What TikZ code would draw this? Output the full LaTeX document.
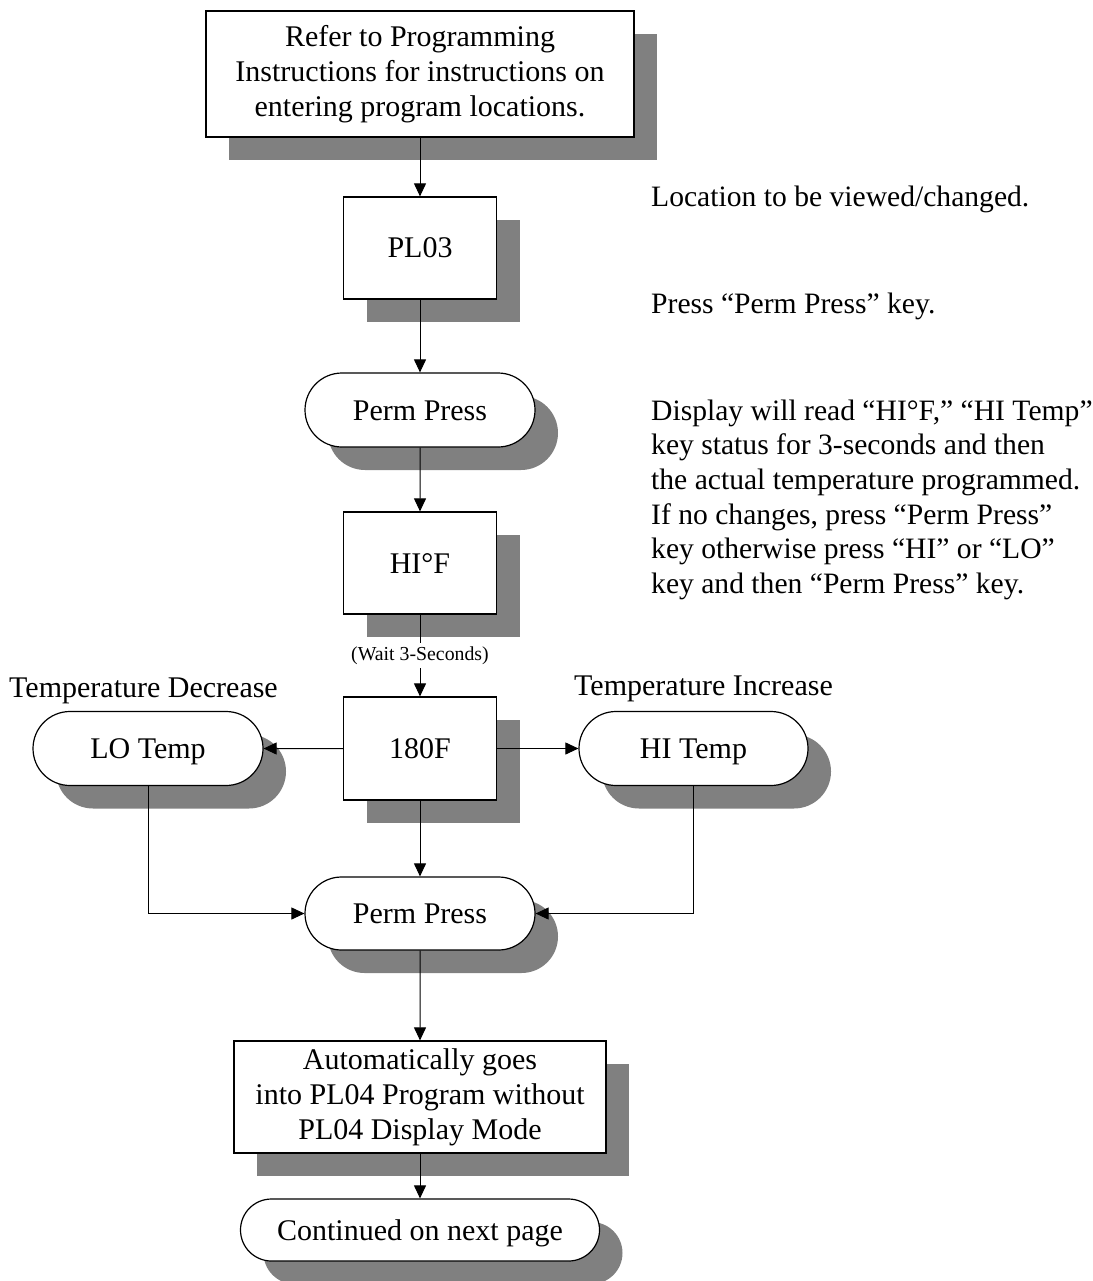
\documentclass[tikz,border=0pt]{standalone}
\usepackage{fontspec}
\setmainfont{Liberation Serif}
\usetikzlibrary{arrows.meta,shadows,shapes.misc}
\begin{document}
\begin{tikzpicture}[x=1pt,y=-1pt,
  every node/.style={font=\fontsize{30}{35}\selectfont},
  shad/.style={drop shadow={shadow xshift=23pt,shadow yshift=-23pt,fill=black!50,opacity=1}},
  boxnode/.style={draw=black,line width=1.2pt,fill=white,shad,align=center,inner sep=0pt},
  oneline/.style={text height=20pt,text depth=0pt},
  termnode/.style={boxnode,rounded rectangle,oneline},
  conn/.style={line width=1pt,-{Triangle[length=13pt,width=12pt]}},
  waitlbl/.style={fill=white,inner sep=4pt,font=\fontsize{19.8}{22}\selectfont},
  sidetext/.style={anchor=base west,align=left,inner sep=0pt,font=\fontsize{29.6}{34.7}\selectfont}
]
\useasboundingbox (0,0) rectangle (1092,1281);
\fill[white] (0,0) rectangle (1092,1281);

\node[boxnode,minimum width=428pt,minimum height=126pt] (b1) at (420,74) {Refer to Programming\\Instructions for instructions on\\entering program locations.};
\node[boxnode,oneline,minimum width=153pt,minimum height=102pt] (pl) at (420,248) {PL03};
\node[termnode,minimum width=230pt,minimum height=74pt] (pp1) at (420,410) {Perm Press};
\node[boxnode,oneline,minimum width=153pt,minimum height=102pt] (hf) at (420,563) {HI°F};
\node[boxnode,oneline,minimum width=153pt,minimum height=103pt] (t) at (420,748.5) {180F};
\node[termnode,minimum width=230pt,minimum height=74pt] (lo) at (148,748.5) {LO Temp};
\node[termnode,minimum width=229pt,minimum height=74pt] (hi) at (693.5,748.5) {HI Temp};
\node[termnode,minimum width=230pt,minimum height=73pt] (pp2) at (420,913.5) {Perm Press};
\node[boxnode,minimum width=372pt,minimum height=112pt] (au) at (420,1097) {Automatically goes\\into PL04 Program without\\PL04 Display Mode};
\node[termnode,minimum width=359pt,minimum height=62pt] (co) at (420,1230) {Continued on next page};

\node[anchor=base,inner sep=0pt] (td) at (143.5,697) {Temperature Decrease};
\node[anchor=base,inner sep=0pt] (ti) at (703.5,695) {Temperature Increase};

\node[sidetext] (s1) at (651,207) {Location to be viewed/changed.};
\node[sidetext] (s2) at (651,313) {Press “Perm Press” key.};
\node[sidetext] (s3) at (651,593.5) {Display will read “HI°F,” “HI Temp”\\key status for 3-seconds and then\\the actual temperature programmed.\\If no changes, press “Perm Press”\\key otherwise press “HI” or “LO”\\key and then “Perm Press” key.};

\draw[conn] (b1) -- (pl);
\draw[conn] (pl) -- (pp1);
\draw[conn] (pp1) -- (hf);
\draw[conn] (hf) -- node[waitlbl] (wt) {(Wait 3-Seconds)} (t);
\draw[conn] (t) -- (lo);
\draw[conn] (t) -- (hi);
\draw[conn] (t) -- (pp2);
\draw[conn] (lo) |- (pp2);
\draw[conn] (hi) |- (pp2);
\draw[conn] (pp2) -- (au);
\draw[conn] (au) -- (co);
\end{tikzpicture}
\end{document}
